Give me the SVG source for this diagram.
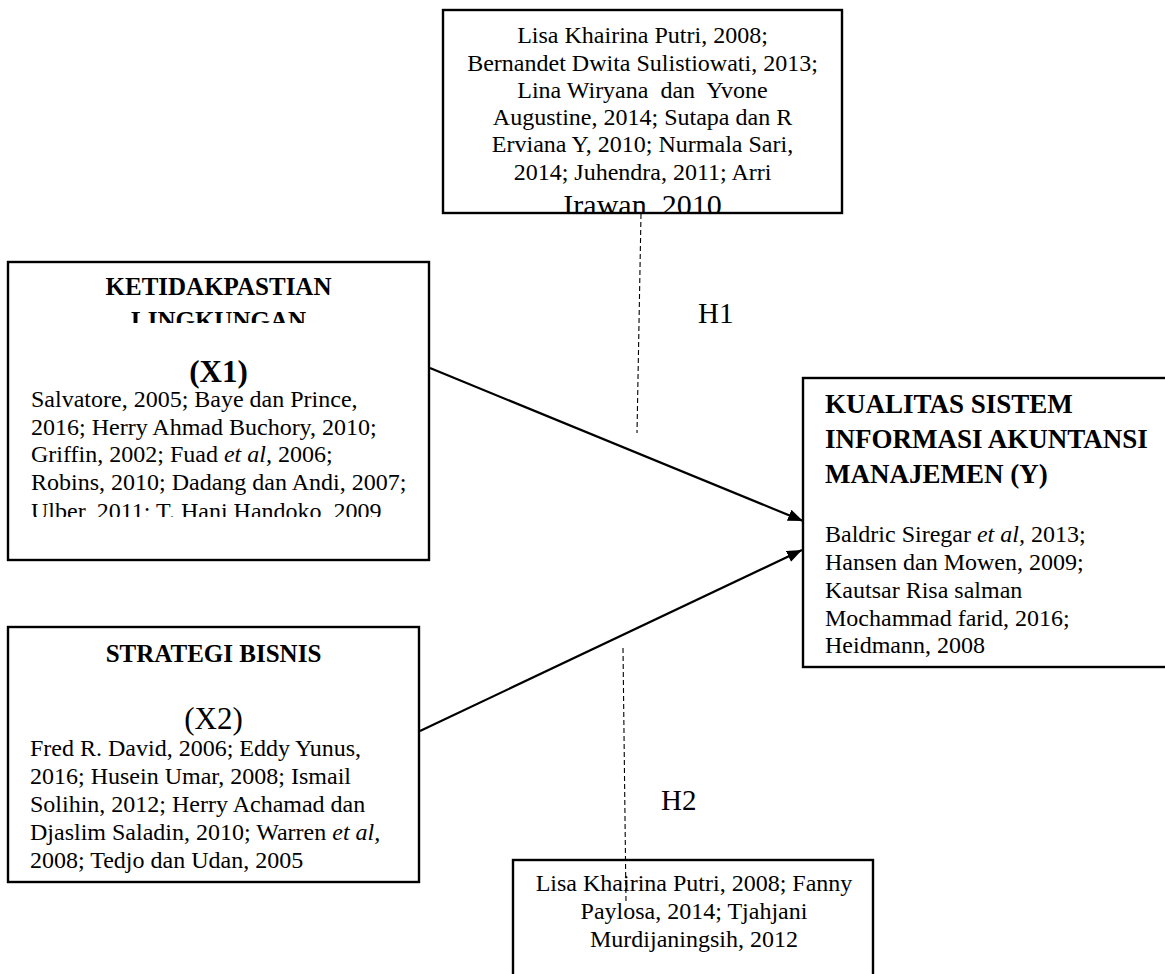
<svg xmlns="http://www.w3.org/2000/svg" width="1165" height="974" viewBox="0 0 1165 974">
<style>
.box{fill:#fff;stroke:#000;stroke-width:2.4}
.t{font-family:"Liberation Serif","Times New Roman",serif;font-size:24px;fill:#000;white-space:pre}
.c{text-anchor:middle}
.b{font-weight:bold}
.h{font-family:"Liberation Serif","Times New Roman",serif;font-size:29px;fill:#000}
.arrow{stroke:#000;stroke-width:2.2;fill:none}
.dash{stroke:#000;stroke-width:1.1;fill:none;stroke-dasharray:5 3}
</style>
<defs>
<marker id="ah" markerUnits="userSpaceOnUse" viewBox="0 0 15 12" refX="15" refY="6" markerWidth="15" markerHeight="12" orient="auto">
<path d="M0,0 L15,6 L0,12 z" fill="#000"/>
</marker>
<clipPath id="clipTop"><rect x="443" y="10" width="399" height="202"/></clipPath>
<clipPath id="clipX1t"><rect x="8" y="262" width="421" height="61"/></clipPath>
<clipPath id="clipX1b"><rect x="8" y="385" width="421" height="132"/></clipPath>
</defs>
<rect width="1165" height="974" fill="#fff"/>
<g id="node-top">
<rect class="box" x="443" y="10" width="399" height="203"/>
<g clip-path="url(#clipTop)">
<text class="t c" x="642.5" y="43">Lisa Khairina Putri, 2008;</text>
<text class="t c" x="642.5" y="71">Bernandet Dwita Sulistiowati, 2013;</text>
<text class="t c" x="642.5" y="98">Lina Wiryana  dan  Yvone</text>
<text class="t c" x="642.5" y="125">Augustine, 2014; Sutapa dan R</text>
<text class="t c" x="642.5" y="152">Erviana Y, 2010; Nurmala Sari,</text>
<text class="t c" x="642.5" y="180">2014; Juhendra, 2011; Arri</text>
<text class="t c" x="642.5" y="215" style="font-size:30px">Irawan, 2010</text>
</g>
</g>
<g id="node-x1">
<rect class="box" x="8" y="262" width="421" height="298"/>
<g clip-path="url(#clipX1t)">
<text class="t c b" x="218.5" y="295" style="font-size:25px">KETIDAKPASTIAN</text>
<text class="t c b" x="218.5" y="329" style="font-size:25px">LINGKUNGAN</text>
</g>
<text class="t c b" x="218.5" y="382" style="font-size:31px">(X1)</text>
<g clip-path="url(#clipX1b)">
<text class="t" x="31" y="407">Salvatore, 2005; Baye dan Prince,</text>
<text class="t" x="31" y="435">2016; Herry Ahmad Buchory, 2010;</text>
<text class="t" x="31" y="462">Griffin, 2002; Fuad <tspan font-style="italic">et al,</tspan> 2006;</text>
<text class="t" x="31" y="490">Robins, 2010; Dadang dan Andi, 2007;</text>
<text class="t" x="31" y="519">Ulber, 2011; T. Hani Handoko, 2009</text>
</g>
</g>
<g id="node-x2">
<rect class="box" x="8" y="627" width="411" height="255"/>
<text class="t c b" x="213.5" y="662" style="font-size:25px">STRATEGI BISNIS</text>
<text class="t c" x="213.5" y="729" style="font-size:31px">(X2)</text>
<text class="t" x="30" y="756">Fred R. David, 2006; Eddy Yunus,</text>
<text class="t" x="30" y="784">2016; Husein Umar, 2008; Ismail</text>
<text class="t" x="30" y="812">Solihin, 2012; Herry Achamad dan</text>
<text class="t" x="30" y="840">Djaslim Saladin, 2010; Warren <tspan font-style="italic">et al,</tspan></text>
<text class="t" x="30" y="868">2008; Tedjo dan Udan, 2005</text>
</g>
<g id="node-y">
<rect class="box" x="803" y="378" width="380" height="289"/>
<text class="t b" x="825" y="413" style="font-size:27px">KUALITAS SISTEM</text>
<text class="t b" x="825" y="448" style="font-size:27px">INFORMASI AKUNTANSI</text>
<text class="t b" x="825" y="483" style="font-size:27px">MANAJEMEN (Y)</text>
<text class="t" x="825" y="542">Baldric Siregar <tspan font-style="italic">et al,</tspan> 2013;</text>
<text class="t" x="825" y="570">Hansen dan Mowen, 2009;</text>
<text class="t" x="825" y="598">Kautsar Risa salman</text>
<text class="t" x="825" y="626">Mochammad farid, 2016;</text>
<text class="t" x="825" y="653">Heidmann, 2008</text>
</g>
<g id="node-bottom">
<rect class="box" x="513" y="860" width="360" height="130"/>
<text class="t c" x="694" y="891">Lisa Khairina Putri, 2008; Fanny</text>
<text class="t c" x="694" y="919">Paylosa, 2014; Tjahjani</text>
<text class="t c" x="694" y="947">Murdijaningsih, 2012</text>
</g>
<g id="connectors">
<line class="arrow" x1="430" y1="368" x2="803" y2="521" marker-end="url(#ah)"/>
<line class="arrow" x1="420" y1="731" x2="802" y2="550" marker-end="url(#ah)"/>
<line class="dash" x1="641" y1="214" x2="637" y2="433"/>
<line class="dash" x1="623" y1="648" x2="626" y2="902"/>
<text class="h" x="698" y="323">H1</text>
<text class="h" x="661" y="810">H2</text>
</g>
</svg>
